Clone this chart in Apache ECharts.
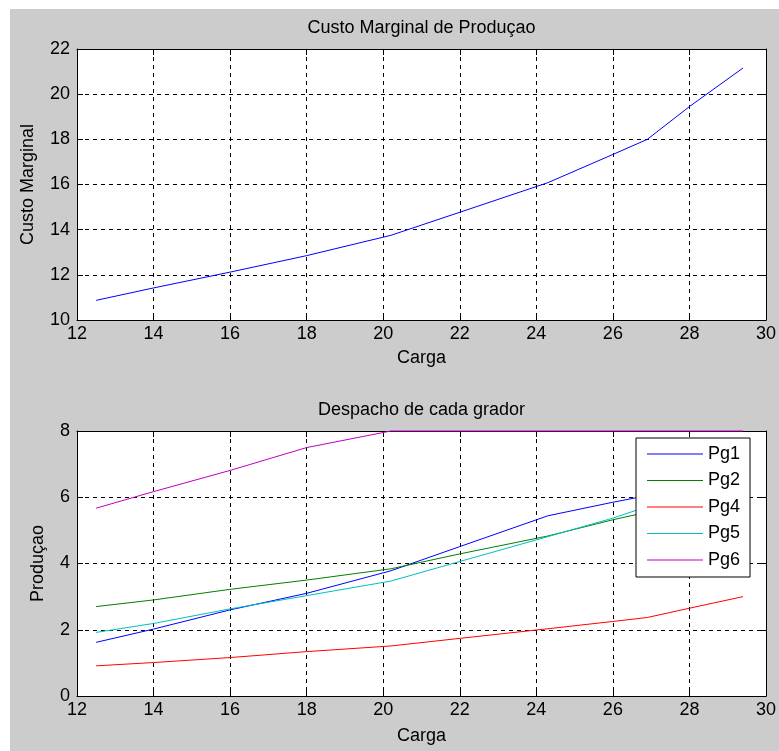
<!DOCTYPE html>
<html>
<head>
<meta charset="utf-8">
<script src="https://cdn.jsdelivr.net/npm/echarts@6/dist/echarts.min.js"></script>
<style>
  html, body { margin: 0; padding: 0; background: #fff; }
  #chart { position: absolute; left: 10px; top: 9px; width: 769px; height: 742px; }
</style>
</head>
<body>
<div id="chart"></div>
<script>
// carga (load) sample points, shared by both subplots
const carga = [12.5, 14, 16, 18, 20.2, 22, 24.3, 26, 26.9, 28, 29.4]
// custo marginal de producao
const custo = [10.87, 11.42, 12.12, 12.85, 13.75, 14.77, 16.08, 17.33, 18.0, 19.45, 21.16]
// despacho de cada gerador
const pg1 = [1.62, 2.02, 2.6, 3.1, 3.78, 4.51, 5.44, 5.85, 6.05, 6.05, 6.05]
const pg2 = [2.7, 2.9, 3.22, 3.5, 3.84, 4.29, 4.83, 5.32, 5.55, 6.0, 6.6]
const pg4 = [0.91, 1.01, 1.16, 1.34, 1.51, 1.74, 2.03, 2.25, 2.37, 2.65, 3.0]
const pg5 = [1.92, 2.19, 2.63, 3.03, 3.47, 4.06, 4.81, 5.37, 5.72, 6.2, 6.8]
const pg6 = [5.67, 6.17, 6.81, 7.5, 8, 8, 8, 8, 8, 8, 8]
const xTicks = { min: 12, max: 30, interval: 2 }

const font = "'Liberation Sans', Arial, sans-serif"
const txt = { color: '#000', fontFamily: font, fontSize: 18 }
const dash = { color: '#000', type: [4, 4], width: 1 }

function pairs(ys) {
  return carga.map((x, i) => [x, ys[i]])
}

function bottomAxis(gridIndex, gap) {
  return {
    type: 'value', gridIndex: gridIndex, position: 'bottom',
    min: xTicks.min, max: xTicks.max, interval: xTicks.interval,
    name: 'Carga', nameLocation: 'middle', nameGap: gap, nameTextStyle: txt,
    axisLine: { onZero: false, lineStyle: { color: '#000', width: 1 } },
    axisTick: { inside: true, length: 6, lineStyle: { color: '#000' } },
    axisLabel: Object.assign({ margin: 5 }, txt),
    splitLine: { show: true, lineStyle: dash }
  }
}

function topAxis(gridIndex, title) {
  return {
    type: 'value', gridIndex: gridIndex, position: 'top',
    min: xTicks.min, max: xTicks.max, interval: xTicks.interval,
    name: title, nameLocation: 'middle', nameGap: 12, nameTextStyle: txt,
    axisLine: { onZero: false, lineStyle: { color: '#000', width: 1 } },
    axisTick: { inside: true, length: 6, lineStyle: { color: '#000' } },
    axisLabel: { show: false },
    splitLine: { show: false }
  }
}

function leftAxis(gridIndex, min, max, name, gap) {
  return {
    type: 'value', gridIndex: gridIndex, position: 'left',
    min: min, max: max, interval: 2,
    name: name, nameLocation: 'middle', nameGap: gap, nameTextStyle: txt,
    axisLine: { show: true, onZero: false, lineStyle: { color: '#000', width: 1 } },
    axisTick: { show: true, inside: true, length: 6, lineStyle: { color: '#000' } },
    axisLabel: Object.assign({ margin: 7 }, txt),
    splitLine: { show: true, lineStyle: dash }
  }
}

function rightAxis(gridIndex, min, max) {
  return {
    type: 'value', gridIndex: gridIndex, position: 'right',
    min: min, max: max, interval: 2,
    axisLine: { show: true, onZero: false, lineStyle: { color: '#000', width: 1 } },
    axisTick: { show: true, inside: true, length: 6, lineStyle: { color: '#000' } },
    axisLabel: { show: false },
    splitLine: { show: false }
  }
}

function line(name, ys, color, xi, yi) {
  return {
    name: name, type: 'line', xAxisIndex: xi, yAxisIndex: yi,
    data: pairs(ys), showSymbol: false, symbol: 'none', clip: false,
    lineStyle: { color: color, width: 1 }, itemStyle: { color: color },
    animation: false
  }
}

const chart = echarts.init(document.getElementById('chart'))
chart.setOption({
  backgroundColor: '#cccccc',
  animation: false,
  grid: [
    { left: 67, top: 40, width: 689, height: 271, show: true, backgroundColor: '#fff', borderWidth: 0 },
    { left: 67, top: 422, width: 689, height: 265, show: true, backgroundColor: '#fff', borderWidth: 0 }
  ],
  xAxis: [
    bottomAxis(0, 29),
    topAxis(0, 'Custo Marginal de Produçao'),
    bottomAxis(1, 31),
    topAxis(1, 'Despacho de cada grador')
  ],
  yAxis: [
    leftAxis(0, 10, 22, 'Custo Marginal', 40),
    rightAxis(0, 10, 22),
    leftAxis(1, 0, 8, 'Produçao', 30),
    rightAxis(1, 0, 8)
  ],
  legend: {
    orient: 'vertical', left: 626, top: 429,
    padding: [7, 10, 8, 11], itemGap: 8.5,
    icon: 'rect', itemWidth: 56, itemHeight: 1,
    backgroundColor: '#fff', borderColor: '#000', borderWidth: 1, borderRadius: 0,
    textStyle: Object.assign({ lineHeight: 18 }, txt),
    data: ['Pg1', 'Pg2', 'Pg4', 'Pg5', 'Pg6']
  },
  series: [
    line('Custo', custo, '#0000ff', 0, 0),
    line('Pg1', pg1, '#0000ff', 2, 2),
    line('Pg2', pg2, '#008000', 2, 2),
    line('Pg4', pg4, '#ff0000', 2, 2),
    line('Pg5', pg5, '#00bfbf', 2, 2),
    line('Pg6', pg6, '#bf00bf', 2, 2)
  ]
})
</script>
</body>
</html>
